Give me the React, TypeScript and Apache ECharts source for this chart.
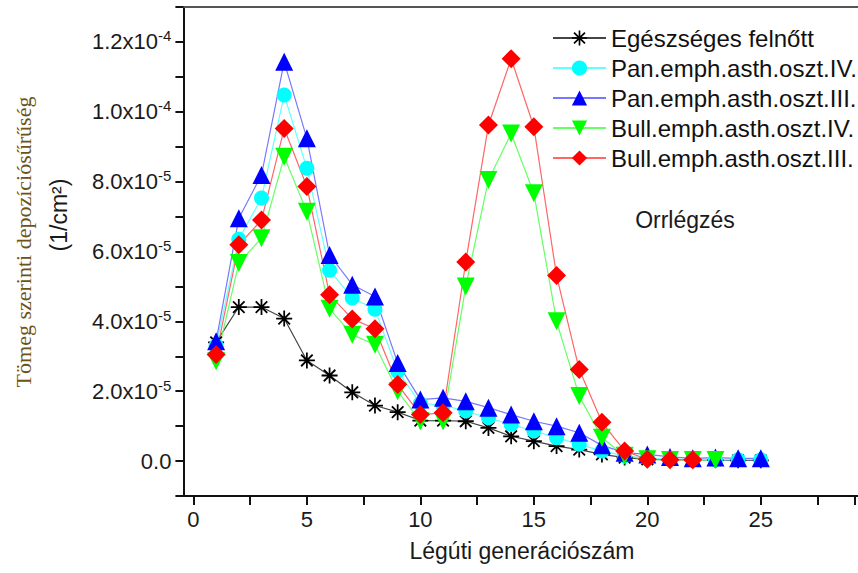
import React, { useEffect, useRef } from "react";
import * as echarts from "echarts";

const generations = [1, 2, 3, 4, 5, 6, 7, 8, 9, 10, 11, 12, 13, 14, 15, 16, 17, 18, 19, 20, 21, 22, 23, 24, 25];

const healthyAdult = [
  3.4e-5, 4.41e-5, 4.41e-5, 4.08e-5, 2.88e-5, 2.45e-5, 1.97e-5, 1.59e-5, 1.4e-5, 1.16e-5,
  1.16e-5, 1.14e-5, 0.95e-5, 0.71e-5, 0.57e-5, 0.43e-5, 0.33e-5, 0.19e-5, 0.1e-5, 0.05e-5,
  0.04e-5, 0.03e-5, 0.03e-5, 0.02e-5, 0.02e-5,
];
const panStageIV = [
  3.3e-5, 6.35e-5, 7.53e-5, 10.48e-5, 8.38e-5, 5.46e-5, 4.67e-5, 4.35e-5, 2.57e-5, 1.65e-5,
  1.6e-5, 1.43e-5, 1.24e-5, 1.05e-5, 0.86e-5, 0.67e-5, 0.48e-5, 0.29e-5, 0.15e-5, 0.08e-5,
  0.06e-5, 0.05e-5, 0.04e-5, 0.04e-5, 0.04e-5,
];
const panStageIII = [
  3.43e-5, 6.95e-5, 8.19e-5, 11.43e-5, 9.24e-5, 5.9e-5, 5.05e-5, 4.71e-5, 2.81e-5, 1.76e-5,
  1.81e-5, 1.71e-5, 1.53e-5, 1.33e-5, 1.14e-5, 1.0e-5, 0.81e-5, 0.45e-5, 0.24e-5, 0.19e-5,
  0.12e-5, 0.08e-5, 0.1e-5, 0.08e-5, 0.08e-5,
];
const bullStageIV = [
  2.86e-5, 5.67e-5, 6.38e-5, 8.71e-5, 7.14e-5, 4.36e-5, 3.62e-5, 3.33e-5, 2.0e-5, 1.14e-5,
  1.14e-5, 5.0e-5, 8.05e-5, 9.38e-5, 7.67e-5, 4.0e-5, 1.86e-5, 0.67e-5, 0.15e-5, 0.05e-5,
  0.03e-5, 0.03e-5, 0.03e-5,
];
const bullStageIII = [
  3.05e-5, 6.19e-5, 6.9e-5, 9.52e-5, 7.86e-5, 4.76e-5, 4.07e-5, 3.79e-5, 2.19e-5, 1.33e-5,
  1.38e-5, 5.7e-5, 9.62e-5, 11.52e-5, 9.57e-5, 5.31e-5, 2.62e-5, 1.11e-5, 0.29e-5, 0.05e-5,
  0.04e-5, 0.04e-5,
];

const seriesNames = [
  "Egészséges felnőtt",
  "Pan.emph.asth.oszt.IV.",
  "Pan.emph.asth.oszt.III.",
  "Bull.emph.asth.oszt.IV.",
  "Bull.emph.asth.oszt.III.",
];

const xTickValues = [0, 5, 10, 15, 20, 25];
const xTickLabels = ["0", "5", "10", "15", "20", "25"];
const yTickValues = [0, 2e-5, 4e-5, 6e-5, 8e-5, 1.0e-4, 1.2e-4];
const yTickMantissas = ["0.0", "2.0", "4.0", "6.0", "8.0", "1.0", "1.2"];
const yTickExponents = ["", "-5", "-5", "-5", "-5", "-4", "-4"];

const yTitle = "Tömeg szerinti depozíciósűrűség";
const yUnit = "(1/cm²)";
const xTitle = "Légúti generációszám";
const annotationText = "Orrlégzés";

const SANS = "'Liberation Sans', Arial, Helvetica, sans-serif";
const SERIF = "'Liberation Serif', 'Times New Roman', serif";

const ASTERISK =
  "path://M8.9 0H11.1V20H8.9Z M0 8.9H20V11.1H0Z M2 3.6L3.6 2L18 16.4L16.4 18Z M16.4 2L18 3.6L3.6 18L2 16.4Z";

function App() {
  const ref = useRef<HTMLDivElement>(null);

  useEffect(() => {
    if (!ref.current) return;
    const chart = echarts.init(ref.current, null, { renderer: "svg" });

    const mk = (
      name: string,
      values: number[],
      symbol: string,
      size: number,
      color: string,
      lineColor: string,
      rotate = 0
    ) => ({
      name,
      type: "line",
      xAxisIndex: 0,
      yAxisIndex: 0,
      data: values.map((v, i) => [generations[i], v]),
      symbol,
      symbolSize: size,
      symbolRotate: rotate,
      showAllSymbol: true,
      itemStyle: { color, borderWidth: 0 },
      lineStyle: { color: lineColor, width: 1.2 },
      emphasis: { disabled: true },
    });

    const yLabel = (v: number) => {
      for (let i = 0; i < yTickValues.length; i++) {
        if (Math.abs(v - yTickValues[i]) < 1e-9) {
          if (!yTickExponents[i]) return `{b|${yTickMantissas[i]}}`;
          return `{b|${yTickMantissas[i]}x10}{s|${yTickExponents[i]}}`;
        }
      }
      return "";
    };
    const xLabel = (v: number) => {
      for (let i = 0; i < xTickValues.length; i++) {
        if (Math.abs(v - xTickValues[i]) < 1e-6) return xTickLabels[i];
      }
      return "";
    };

    chart.setOption({
      animation: false,
      backgroundColor: "#ffffff",
      grid: [
        { left: 193.4, right: 0, top: 7, bottom: 77 },
        { left: 183.4, right: 0, top: 7, bottom: 77 },
      ],
      xAxis: [
        {
          type: "value",
          gridIndex: 0,
          position: "bottom",
          min: 0,
          max: 29.15,
          interval: 2.5,
          axisLine: { show: false, onZero: false },
          axisTick: { show: true, inside: false, length: 9, lineStyle: { color: "#111", width: 2 } },
          splitLine: { show: false },
          axisLabel: {
            formatter: xLabel,
            margin: 12,
            fontSize: 22,
            fontFamily: SANS,
            color: "#1a1a1a",
            showMaxLabel: true,
            showMinLabel: true,
          },
        },
        {
          type: "value",
          gridIndex: 1,
          position: "bottom",
          min: 0,
          max: 1,
          axisLine: { show: true, onZero: false, lineStyle: { color: "#111", width: 2 } },
          axisTick: { show: false },
          axisLabel: { show: false },
          splitLine: { show: false },
        },
        {
          type: "value",
          gridIndex: 1,
          position: "top",
          min: 0,
          max: 1,
          axisLine: { show: true, onZero: false, lineStyle: { color: "#555", width: 2 } },
          axisTick: { show: false },
          axisLabel: { show: false },
          splitLine: { show: false },
        },
      ],
      yAxis: [
        {
          type: "value",
          gridIndex: 0,
          min: -1e-5,
          max: 1.3e-4,
          interval: 1e-5,
          offset: 10,
          axisLine: { show: true, onZero: false, lineStyle: { color: "#111", width: 2 } },
          axisTick: { show: true, inside: false, length: 8, lineStyle: { color: "#111", width: 2 } },
          splitLine: { show: false },
          axisLabel: {
            formatter: yLabel,
            margin: 12,
            color: "#1a1a1a",
            rich: {
              b: { fontSize: 22, fontFamily: SANS, color: "#1a1a1a", lineHeight: 27 },
              s: { fontSize: 15, fontFamily: SANS, color: "#1a1a1a", verticalAlign: "top", lineHeight: 15 },
            },
          },
        },
        {
          type: "value",
          gridIndex: 1,
          show: false,
          min: 0,
          max: 1,
        },
      ],
      legend: {
        orient: "vertical",
        left: 547,
        top: 21,
        itemWidth: 53,
        itemHeight: 19,
        itemGap: 6,
        selectedMode: false,
        data: seriesNames,
        textStyle: { fontSize: 24, fontFamily: SANS, color: "#111", lineHeight: 24 },
      },
      graphic: [
        {
          type: "text",
          x: 23,
          y: 242,
          rotation: Math.PI / 2,
          style: {
            text: yTitle,
            font: `22px ${SERIF}`,
            fill: "#6b5415",
            align: "center",
            verticalAlign: "middle",
          },
        },
        {
          type: "text",
          x: 59,
          y: 215,
          rotation: Math.PI / 2,
          style: {
            text: yUnit,
            font: `23px ${SANS}`,
            fill: "#1a1a1a",
            align: "center",
            verticalAlign: "middle",
          },
        },
        {
          type: "text",
          x: 522,
          y: 551,
          style: {
            text: xTitle,
            font: `23px ${SANS}`,
            fill: "#1a1a1a",
            align: "center",
            verticalAlign: "middle",
          },
        },
        {
          type: "text",
          x: 685,
          y: 220,
          style: {
            text: annotationText,
            font: `23px ${SANS}`,
            fill: "#1a1a1a",
            align: "center",
            verticalAlign: "middle",
          },
        },
      ],
      series: [
        mk(seriesNames[0], healthyAdult, ASTERISK, 16, "#000000", "#444444"),
        mk(seriesNames[1], panStageIV, "circle", 15, "#00ffff", "#66ffff"),
        mk(seriesNames[2], panStageIII, "triangle", 18, "#0000ff", "#7777ff"),
        mk(seriesNames[3], bullStageIV, "triangle", 18, "#00ff00", "#66ff66", 180),
        mk(seriesNames[4], bullStageIII, "diamond", 19, "#ff0000", "#ff6666"),
      ],
    });

    return () => chart.dispose();
  }, []);

  return (
    <div
      ref={ref}
      style={{ position: "absolute", left: 0, top: 0, width: 858, height: 573, background: "#fff" }}
    />
  );
}

export default App;
